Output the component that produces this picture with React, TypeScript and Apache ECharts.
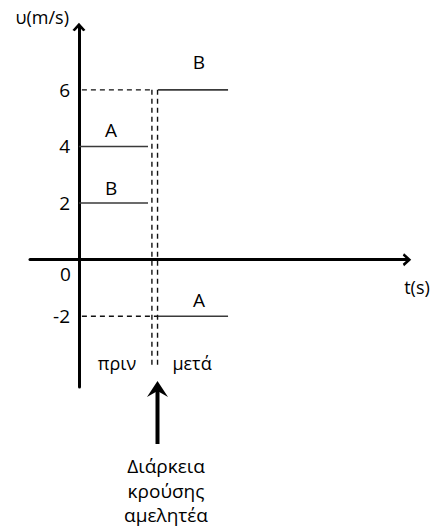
import React, { useEffect, useRef } from "react";
import * as echarts from "echarts";

// velocity values (m/s)
const vBefore = { A: 4, B: 2 };
const vAfter = { A: -2, B: 6 };
// time markers (arbitrary units along t axis)
const tStart = 0;
const tBeforeEnd = 2.82;
const tCollision1 = 2.98;
const tCollision2 = 3.21;
const tAfterStart = 3.23;
const tAfterEnd = 6.09;
const tDashStart = 0.12;
const vDashBottom = -3.83;
const yTicks = [-2, 2, 4, 6];
// body letter labels [t, v, name]
const letterLabels: [number, number, string][] = [
  [1.31, 4.58, "A"],
  [1.31, 2.53, "B"],
  [4.9, 6.98, "B"],
  [4.9, -1.43, "A"],
];
const caption = ["Διάρκεια", "κρούσης", "αμελητέα"];

const FONT = "Open Sans";
const chevron = "path://M10,0 L20,11 L16.5,13 L10,6 L3.5,13 L0,11 Z";

export default function App() {
  const ref = useRef<HTMLDivElement>(null);
  useEffect(() => {
    if (!ref.current) return;
    const chart = echarts.init(ref.current, null, { renderer: "svg" });
    const solid = { color: "#3a3a3a", width: 1.6, type: "solid" as const };
    const dashed = { color: "#111", width: 1.4, type: [5, 4] as any };
    const seg = (name: string, data: number[][], ls: any) => ({
      type: "line",
      name,
      data,
      symbol: "none",
      lineStyle: ls,
      silent: true,
      z: 3,
    });
    const txt = (text: string, x: number, y: number, size: number, align = "center") => ({
      type: "text",
      x,
      y,
      style: { text, align, verticalAlign: "middle", fill: "#000", font: `${size}px "${FONT}"` },
    });
    chart.setOption({
      animation: false,
      grid: { left: 30, right: 31, top: 27, bottom: 142 },
      xAxis: {
        type: "value",
        min: -2,
        max: 13.4,
        axisLine: {
          onZero: true,
          symbol: ["none", chevron],
          symbolSize: [13, 10],
          lineStyle: { color: "#000", width: 3 },
        },
        axisTick: { show: false },
        axisLabel: { show: false },
        splitLine: { show: false },
      },
      yAxis: {
        type: "value",
        min: -4.5,
        max: 8.22,
        axisLine: {
          onZero: true,
          symbol: ["none", chevron],
          symbolSize: [13, 10],
          lineStyle: { color: "#000", width: 3 },
        },
        axisTick: { show: false },
        splitLine: { show: false },
        axisLabel: {
          customValues: yTicks,
          margin: -40,
          color: "#000",
          fontFamily: FONT,
          fontSize: 19,
        },
      },
      series: [
        seg("A πριν", [[tStart, vBefore.A], [tBeforeEnd, vBefore.A]], solid),
        seg("B πριν", [[tStart, vBefore.B], [tBeforeEnd, vBefore.B]], solid),
        seg("B μετά", [[tAfterStart, vAfter.B], [tAfterEnd, vAfter.B]], solid),
        seg("A μετά", [[tAfterStart, vAfter.A], [tAfterEnd, vAfter.A]], solid),
        seg("dash6", [[tDashStart, vAfter.B], [tCollision1, vAfter.B]], dashed),
        seg("dash-2", [[tDashStart, vAfter.A], [tCollision2, vAfter.A]], dashed),
        seg("dashV1", [[tCollision1, vAfter.B], [tCollision1, vDashBottom]], dashed),
        seg("dashV2", [[tCollision2, vAfter.B], [tCollision2, vDashBottom]], dashed),
        {
          type: "scatter",
          symbolSize: 0,
          silent: true,
          itemStyle: { opacity: 1 },
          data: letterLabels.map((d) => ({ value: [d[0], d[1]], name: d[2] })),
          label: {
            show: true,
            position: "inside",
            formatter: (p: any) => p.name,
            color: "#000",
            opacity: 1,
            textBorderWidth: 0,
            fontFamily: FONT,
            fontSize: 19,
          },
        },
        {
          type: "scatter",
          symbolSize: 0,
          silent: true,
          itemStyle: { opacity: 1 },
          data: [[0, 0]],
          label: {
            show: true,
            position: "left",
            distance: 8,
            offset: [0, 14],
            formatter: "0",
            color: "#000",
            opacity: 1,
            textBorderWidth: 0,
            fontFamily: FONT,
            fontSize: 19,
          },
        },
      ],
      graphic: [
        txt("υ(m/s)", 69, 17, 18, "right"),
        txt("t(s)", 417, 287, 18),
        txt("πριν", 117, 363, 18),
        txt("μετά", 192, 363, 18),
        {
          type: "rect",
          shape: { x: 155.5, y: 388, width: 4, height: 56 },
          style: { fill: "#000" },
        },
        {
          type: "polygon",
          shape: { points: [[157.5, 381], [168, 397], [157.5, 391], [147, 397]] },
          style: { fill: "#000" },
        },
        txt(caption[0], 166, 466, 19),
        txt(caption[1], 166, 491, 19),
        txt(caption[2], 166, 515, 19),
      ],
    });
    return () => chart.dispose();
  }, []);
  return (
    <div
      ref={ref}
      style={{ position: "fixed", left: 0, top: 0, width: 438, height: 529, background: "#fff" }}
    />
  );
}
